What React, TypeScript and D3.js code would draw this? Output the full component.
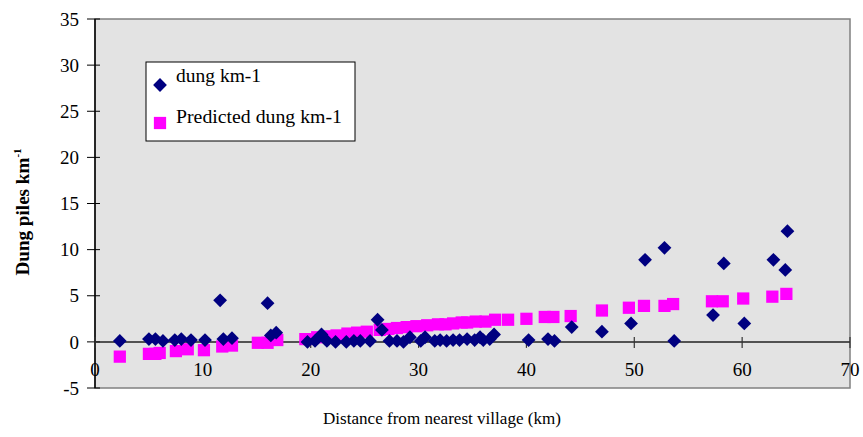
import * as d3 from "d3";

// observed dung piles per km (distance km, value)
const obsDistance = [
  2.3, 5.0, 5.6, 6.3, 7.4, 8.0, 8.9, 10.2, 11.6, 11.9, 12.7, 16.0, 16.3, 16.8,
  19.7, 20.4, 21.0, 21.5, 22.3, 23.3, 24.0, 24.6, 25.5, 26.2, 26.6, 27.3, 28.0,
  28.6, 29.2, 30.2, 30.6, 31.5, 32.0, 32.6, 33.2, 33.8, 34.5, 35.2, 35.7, 36.0,
  36.6, 37.0, 40.2, 42.0, 42.6, 44.2, 47.0, 49.7, 51.0, 52.8, 53.7, 57.3, 58.3,
  60.2, 62.9, 64.0, 64.2,
];
const obsDung = [
  0.1, 0.3, 0.3, 0.1, 0.2, 0.3, 0.2, 0.2, 4.5, 0.3, 0.4, 4.2, 0.7, 1.0,
  0.0, 0.1, 0.8, 0.1, 0.0, 0.0, 0.1, 0.1, 0.1, 2.4, 1.3, 0.1, 0.1,
  0.0, 0.5, 0.1, 0.5, 0.1, 0.2, 0.1, 0.2, 0.2, 0.3, 0.2, 0.5, 0.2,
  0.3, 0.8, 0.2, 0.3, 0.1, 1.6, 1.1, 2.0, 8.9, 10.2, 0.1, 2.9, 8.5,
  2.0, 8.9, 7.8, 12.0,
];

// predicted dung piles per km
const predDistance = [
  2.3, 5.0, 5.6, 6.0, 7.5, 8.6, 10.1, 11.8, 12.7, 15.1, 16.0, 16.9, 19.5,
  20.6, 21.5, 22.4, 23.4, 24.3, 25.2, 26.4, 27.2, 28.0, 28.9, 29.8, 30.8,
  31.8, 32.5, 33.2, 34.0, 34.5, 35.3, 36.2, 37.1, 38.3, 40.0, 41.7, 42.5,
  44.1, 47.0, 49.5, 50.9, 52.8, 53.6, 57.2, 58.2, 60.1, 62.8, 64.1,
];
const predDung = [
  -1.6, -1.3, -1.3, -1.2, -1.0, -0.8, -0.9, -0.5, -0.4, -0.1, -0.1, 0.2, 0.3,
  0.5, 0.6, 0.7, 0.9, 1.0, 1.1, 1.3, 1.4, 1.5, 1.6, 1.7, 1.8,
  1.9, 1.9, 2.0, 2.1, 2.1, 2.2, 2.2, 2.4, 2.4, 2.5, 2.7, 2.7,
  2.8, 3.4, 3.7, 3.9, 3.9, 4.1, 4.4, 4.4, 4.7, 4.9, 5.2,
];

const xTicks = [0, 10, 20, 30, 40, 50, 60, 70];
const yTicks = [-5, 0, 5, 10, 15, 20, 25, 30, 35];

const W = 863;
const H = 437;
const left = 95;
const right = 850;
const top = 19;
const bottom = 388;
const font = "Liberation Serif";

export default function App() {
  const x = d3.scaleLinear().domain([0, 70]).range([left, right]);
  const y = d3.scaleLinear().domain([-5, 35]).range([bottom, top]);

  const diamond = d3.symbol(d3.symbolSquare, 95)() || "";
  const square = d3.symbol(d3.symbolSquare, 150)() || "";

  const obs = obsDistance.map((d, i) => ({ x: d, y: obsDung[i] }));
  const pred = predDistance.map((d, i) => ({ x: d, y: predDung[i] }));

  return (
    <svg
      width={W}
      height={H}
      style={{ position: "absolute", left: 0, top: 0, background: "#fff", fontFamily: font }}
    >
      {/* plot area */}
      <rect x={left} y={top} width={right - left} height={bottom - top} fill="#e3e3e3" stroke="#808080" strokeWidth={1.5} />

      {/* y axis */}
      <line x1={left} x2={left} y1={top} y2={bottom} stroke="#000" strokeWidth={1.5} />
      {yTicks.map((t) => (
        <g key={t}>
          <line x1={left - 8} x2={left + 5} y1={y(t)} y2={y(t)} stroke="#000" />
          <text x={79} y={y(t)} dy="0.35em" textAnchor="end" fontSize={19} style={{ fontFamily: font }}>
            {t}
          </text>
        </g>
      ))}

      {/* x axis at zero */}
      <line x1={left} x2={right} y1={y(0)} y2={y(0)} stroke="#222" strokeWidth={1.5} />
      {xTicks.map((t) => (
        <g key={t}>
          <line x1={x(t)} x2={x(t)} y1={y(0) - 5} y2={y(0) + 6} stroke="#333" strokeWidth={1.2} />
          <text x={x(t)} y={376} textAnchor="middle" fontSize={19} style={{ fontFamily: font }}>
            {t}
          </text>
        </g>
      ))}

      {/* predicted */}
      {pred.map((d, i) => (
        <path key={"p" + i} d={square} transform={`translate(${x(d.x)},${y(d.y)})`} fill="#ff00ff" />
      ))}

      {/* observed */}
      {obs.map((d, i) => (
        <path key={"o" + i} d={diamond} transform={`translate(${x(d.x)},${y(d.y)}) rotate(45)`} fill="#000080" />
      ))}

      {/* legend */}
      <rect x={146} y={62} width={209} height={79} fill="#fff" stroke="#000" />
      <path d={diamond} transform="translate(160,85) rotate(45)" fill="#000080" />
      <text x={176} y={82} fontSize={19.5} style={{ fontFamily: font }}>dung km-1</text>
      <path d={square} transform="translate(160,123)" fill="#ff00ff" />
      <text x={176} y={123} fontSize={19.5} style={{ fontFamily: font }} textLength={166} lengthAdjust="spacingAndGlyphs">Predicted dung km-1</text>

      {/* axis titles */}
      <text transform="translate(29,212) rotate(-90)" textAnchor="middle" fontSize={19} fontWeight="bold" style={{ fontFamily: font }}>
        <tspan textLength={118} lengthAdjust="spacingAndGlyphs">Dung piles km</tspan>
        <tspan dy={-8} fontSize={11}>-1</tspan>
      </text>
      <text x={442} y={424} textAnchor="middle" fontSize={17} style={{ fontFamily: font }} textLength={238} lengthAdjust="spacingAndGlyphs">
        Distance from nearest village (km)
      </text>
    </svg>
  );
}
